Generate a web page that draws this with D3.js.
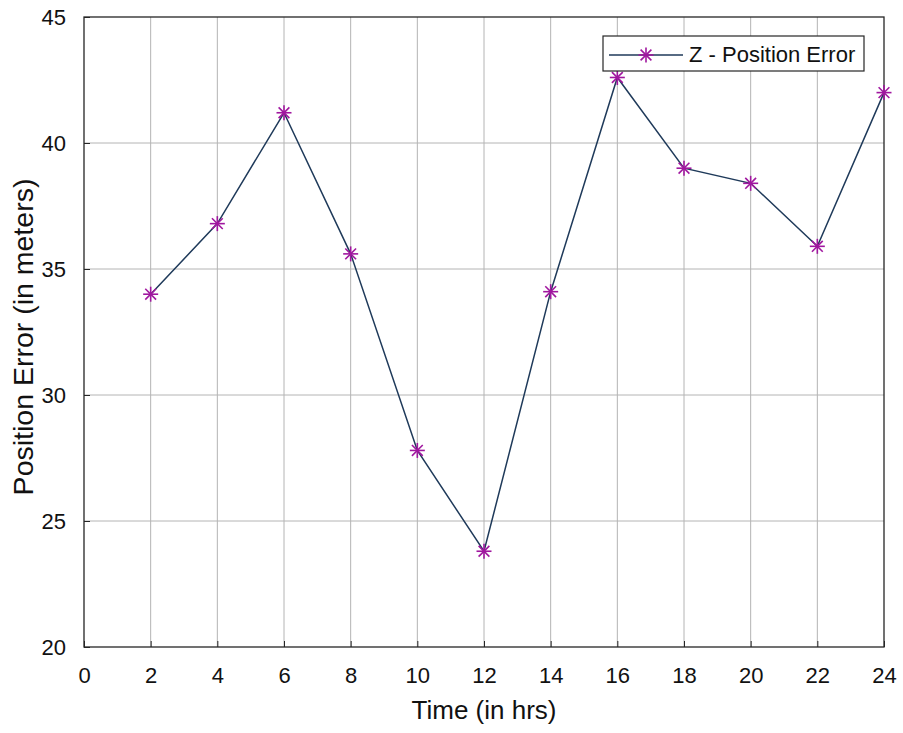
<!DOCTYPE html>
<html>
<head>
<meta charset="utf-8">
<script src="https://cdn.jsdelivr.net/npm/d3@7"></script>
<style>
  html, body { margin: 0; padding: 0; background: #fff; }
  text { font-family: "Liberation Sans", Arial, sans-serif; fill: #111; }
</style>
</head>
<body>
<svg id="chart"></svg>
<script>
// data
let hours = [2, 4, 6, 8, 10, 12, 14, 16, 18, 20, 22, 24];
let zError = [34.0, 36.8, 41.2, 35.6, 27.8, 23.8, 34.1, 42.6, 39.0, 38.4, 35.9, 42.0];
let xTicks = [0, 2, 4, 6, 8, 10, 12, 14, 16, 18, 20, 22, 24];
let yTicks = [20, 25, 30, 35, 40, 45];
let seriesName = "Z - Position Error";

let width = 903;
let height = 733;
let margin = { left: 84, right: 19, top: 17, bottom: 86 };

let svg = d3.select("#chart")
  .attr("width", width)
  .attr("height", height)
  .attr("viewBox", `0 0 ${width} ${height}`);

let x = d3.scaleLinear().domain([0, 24]).range([margin.left, width - margin.right]);
let y = d3.scaleLinear().domain([20, 45]).range([height - margin.bottom, margin.top]);

let lineColor = "#1f3a5a";
let markColor = "#a0179f";

// grid
let grid = svg.append("g");
grid.selectAll("vgrid")
  .data(xTicks.slice(1, -1))
  .enter()
  .append("line")
  .attr("x1", d => x(d)).attr("x2", d => x(d))
  .attr("y1", y(20)).attr("y2", y(45))
  .attr("stroke", "#b4b4b4")
  .attr("stroke-width", 1);
grid.selectAll("hgrid")
  .data(yTicks.slice(1, -1))
  .enter()
  .append("line")
  .attr("x1", x(0)).attr("x2", x(24))
  .attr("y1", d => y(d)).attr("y2", d => y(d))
  .attr("stroke", "#b4b4b4")
  .attr("stroke-width", 1);

// axes (ticks inward, box around)
let xAxis = svg.append("g")
  .attr("transform", `translate(0,${y(20)})`)
  .call(d3.axisBottom(x).tickValues(xTicks).tickSizeInner(-6).tickSizeOuter(0).tickPadding(20));
let yAxis = svg.append("g")
  .attr("transform", `translate(${x(0)},0)`)
  .call(d3.axisLeft(y).tickValues(yTicks).tickSizeInner(-6).tickSizeOuter(0).tickPadding(18));
[xAxis, yAxis].forEach(function (a) {
  a.select(".domain").remove();
  a.selectAll(".tick line").attr("stroke", "#262626");
  a.selectAll(".tick text")
    .style("font-family", '"Liberation Sans", Arial, sans-serif')
    .style("font-size", "22px")
    .attr("fill", "#111");
});
yAxis.selectAll(".tick text").attr("dy", "0.36em");

svg.append("rect")
  .attr("x", x(0)).attr("y", y(45))
  .attr("width", x(24) - x(0)).attr("height", y(20) - y(45))
  .attr("fill", "none")
  .attr("stroke", "#262626")
  .attr("stroke-width", 1.3);

// line
let line = d3.line()
  .x((d, i) => x(hours[i]))
  .y(d => y(d));

svg.append("path")
  .datum(zError)
  .attr("d", line)
  .attr("fill", "none")
  .attr("stroke", lineColor)
  .attr("stroke-width", 1.5);

// asterisk markers
function asterisk(g, r) {
  let k = r * 0.72;
  [[-r, 0, r, 0], [0, -r, 0, r], [-k, -k, k, k], [-k, k, k, -k]].forEach(function (s) {
    g.append("line")
      .attr("x1", s[0]).attr("y1", s[1])
      .attr("x2", s[2]).attr("y2", s[3])
      .attr("stroke", markColor)
      .attr("stroke-width", 1.6);
  });
}

svg.selectAll("marks")
  .data(zError)
  .enter()
  .append("g")
  .attr("transform", (d, i) => `translate(${x(hours[i])},${y(d)})`)
  .each(function () { asterisk(d3.select(this), 7.5); });

// axis labels
svg.append("text")
  .attr("x", (x(0) + x(24)) / 2)
  .attr("y", 719)
  .attr("text-anchor", "middle")
  .style("font-size", "26px")
  .text("Time (in hrs)");

svg.append("text")
  .attr("transform", `translate(33,${(y(20) + y(45)) / 2 + 5}) rotate(-90)`)
  .attr("text-anchor", "middle")
  .style("font-size", "28.5px")
  .text("Position Error (in meters)");

// legend
let legend = svg.append("g");
legend.append("rect")
  .attr("x", 603).attr("y", 36)
  .attr("width", 261).attr("height", 35)
  .attr("fill", "#fff")
  .attr("stroke", "#262626")
  .attr("stroke-width", 1.2);
legend.append("line")
  .attr("x1", 609).attr("x2", 683)
  .attr("y1", 55).attr("y2", 55)
  .attr("stroke", lineColor)
  .attr("stroke-width", 1.5);
asterisk(legend.append("g").attr("transform", "translate(646,55)"), 7.5);
legend.append("text")
  .attr("x", 689).attr("y", 62)
  .style("font-size", "22px")
  .text(seriesName);
</script>
</body>
</html>
